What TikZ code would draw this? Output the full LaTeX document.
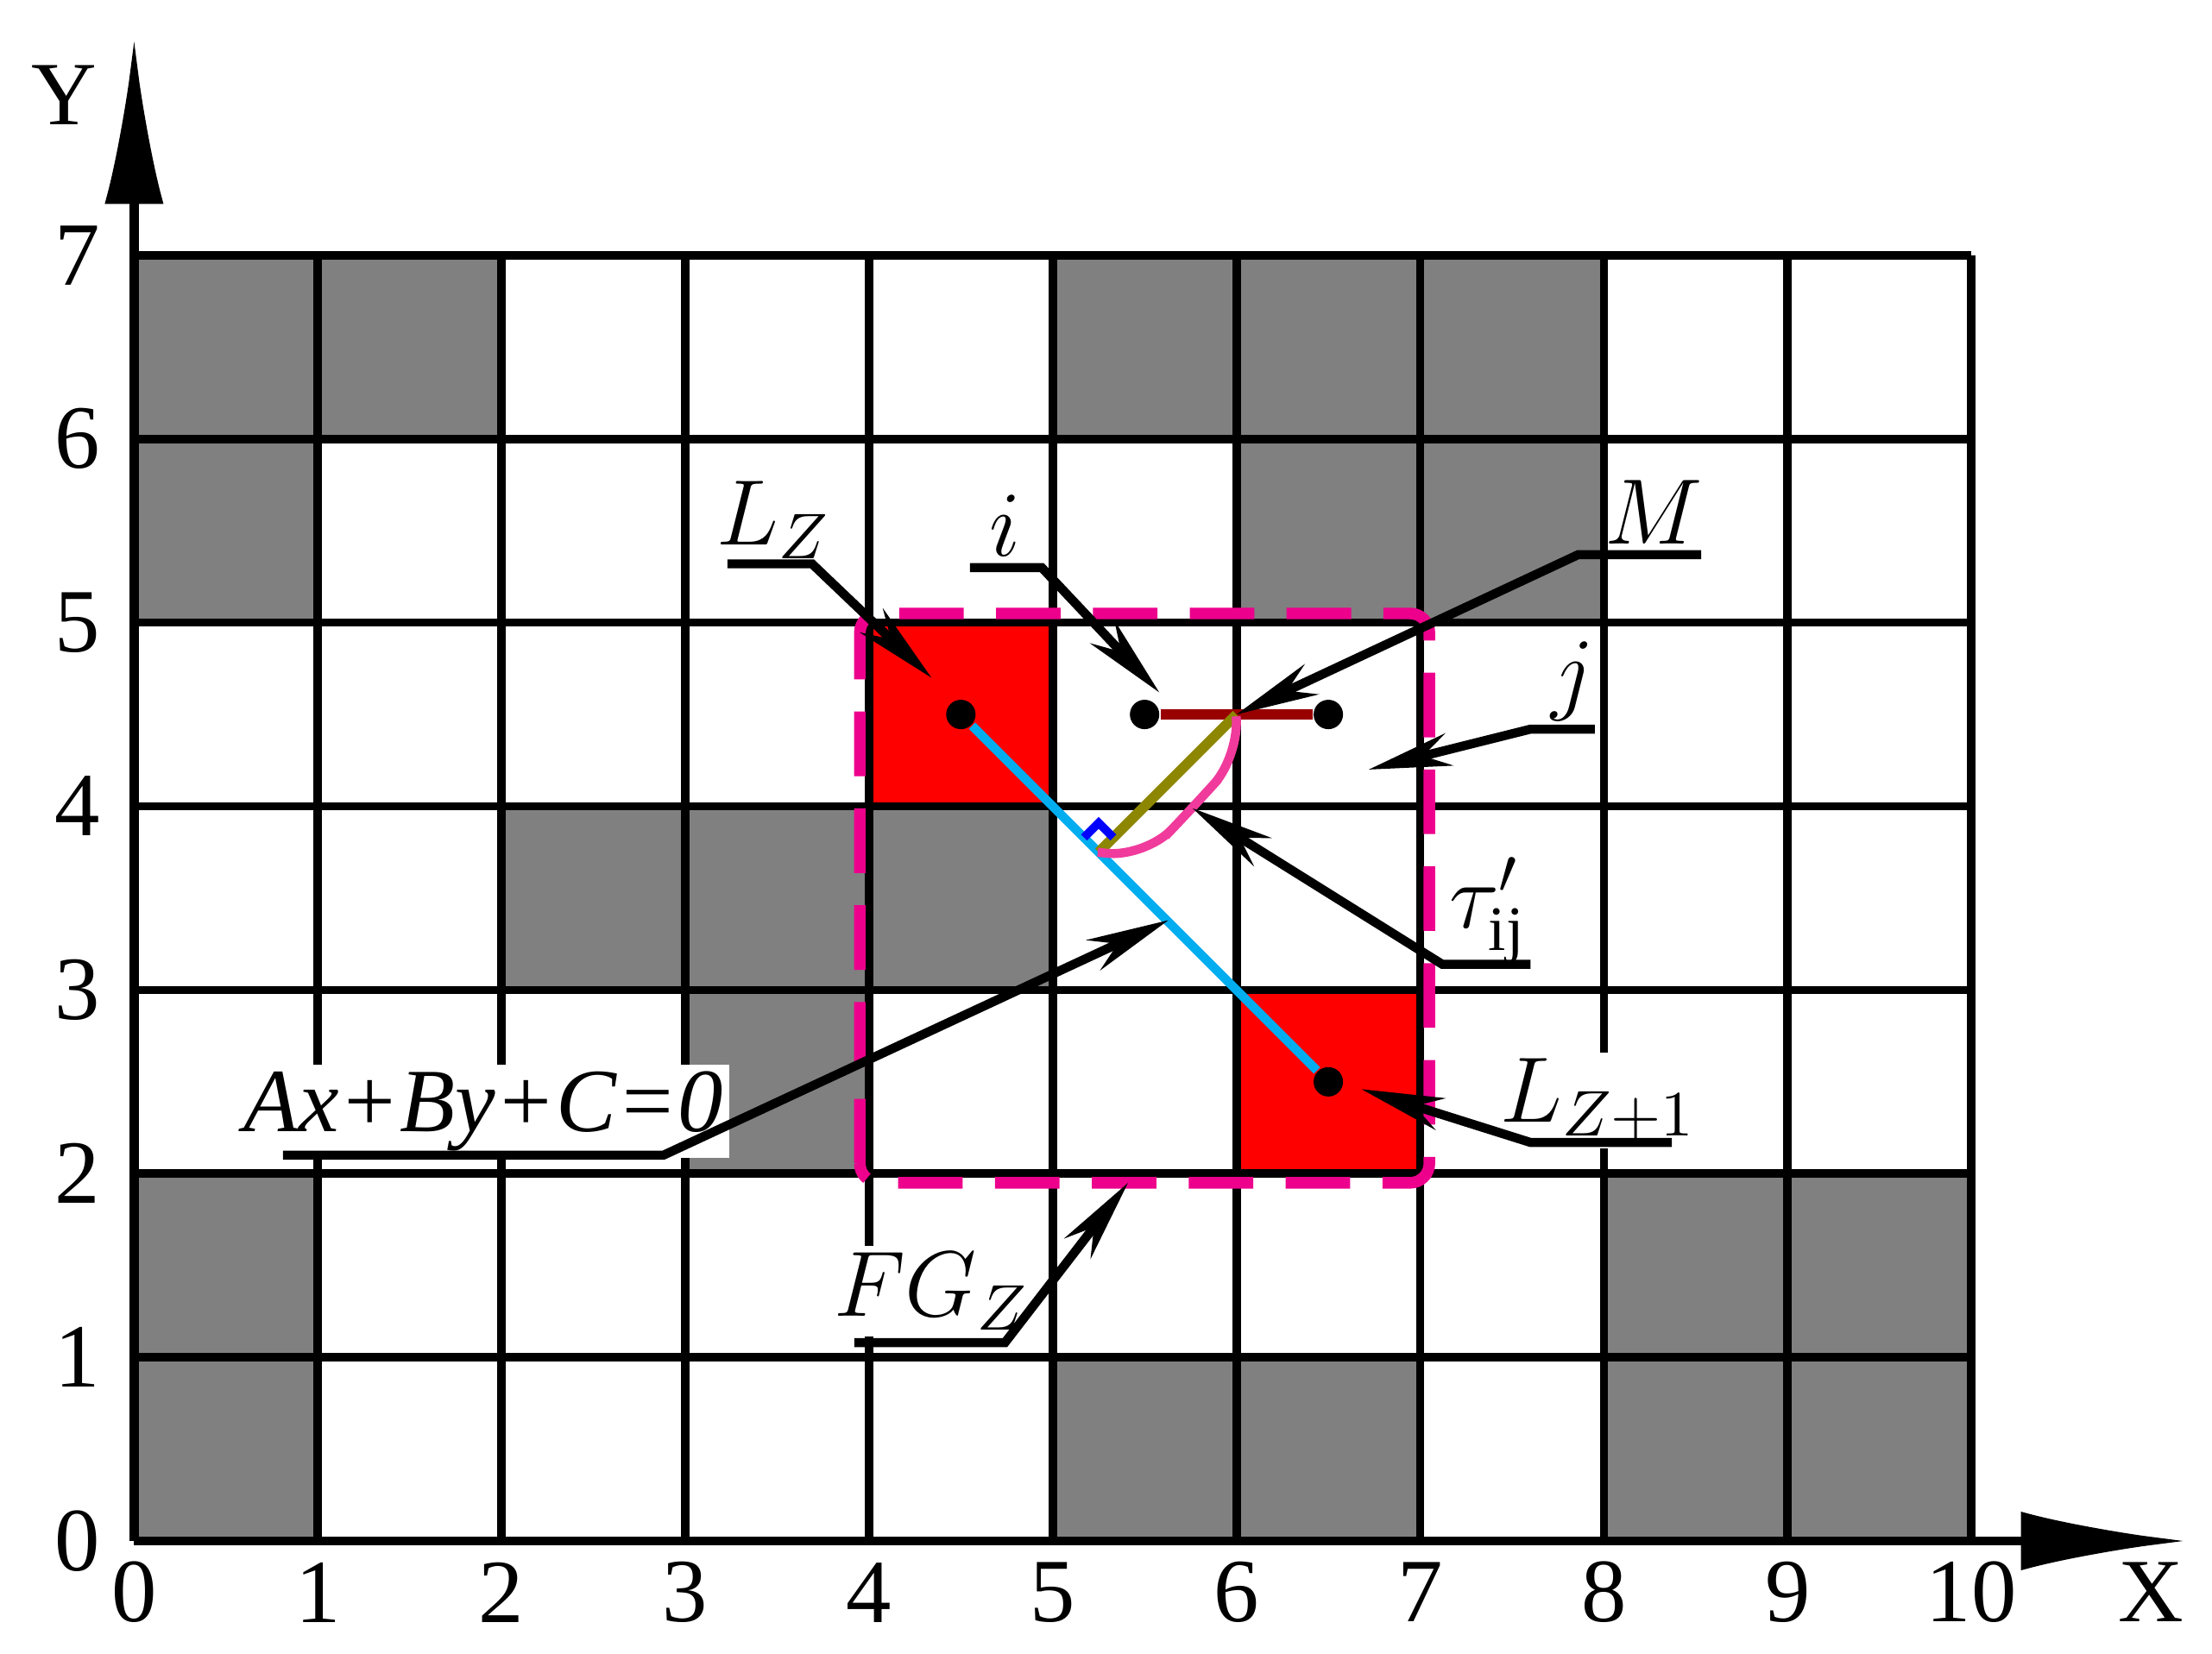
\documentclass[tikz,border=0pt]{standalone}
\usepackage{fontspec}
\setmainfont{Liberation Serif}
\usetikzlibrary{arrows.meta}
\begin{document}
\begin{tikzpicture}[
  gridln/.style={line width=1.3pt},
  lead/.style={line width=1.4pt},
  leadarr/.style={line width=1.4pt,-{Stealth[length=4.5mm,width=1.8mm]}},
  lab/.style={font=\fontsize{14}{16}\selectfont\itshape,fill=white,inner sep=1pt},
  num/.style={font=\fontsize{14}{16}\selectfont},
  dot/.style={circle,fill=black,inner sep=0pt,minimum size=1.6mm}]
\useasboundingbox (-0.73,-0.615) rectangle (11.31,8.39);
% gray cells
\foreach \x/\y in {0/6,1/6,5/6,6/6,7/6,0/5,6/5,7/5,2/3,3/3,4/3,3/2,0/1,8/1,9/1,0/0,5/0,6/0,8/0,9/0}
  \fill[gray!100!black,fill=gray] (\x,\y) rectangle ++(1,1);
\fill[red] (4,4) rectangle (5,5);
\fill[red] (6,2) rectangle (7,3);
% grid
\foreach \y in {0,...,7} \draw[gridln] (0,\y) -- (10,\y);
\foreach \x in {0,...,10} \draw[gridln] (\x,0) -- (\x,7);
% axes
\draw[line width=1.4pt,-{Latex[length=9mm,width=3.2mm]}] (0,0) -- (0,8.18);
\draw[line width=1.4pt,-{Latex[length=9mm,width=3.2mm]}] (0,0) -- (11.17,0);
\node[num] (ylab) at (-0.38,7.87) {Y};
\node[num] (xlab) at (10.98,-0.28) {X};
\foreach \x in {0,...,10} \node[num] (xt\x) at (\x,-0.28) {\x};
\foreach \y in {0,...,7} \node[num] (yt\y) at (-0.31,\y) {\y};
% dashed magenta region
\draw[magenta,line width=1.8pt,dash pattern=on 10pt off 5pt,rounded corners=3pt] (3.95,1.95) rectangle (7.05,5.05);
% lines
\node[dot] (Lz) at (4.5,4.5) {};
\node[dot] (Lz1) at (6.5,2.5) {};
\node[dot] (i1) at (5.5,4.5) {};
\node[dot] (i2) at (6.5,4.5) {};
\coordinate (M) at (6,4.5);
\coordinate (F) at (5.25,3.75);
\draw[cyan,line width=1.4pt] (Lz) -- (Lz1);
\draw[red!60!black,line width=1.6pt] (i1) -- (i2);
\draw[olive,line width=1.6pt] (F) -- (M);
\draw[blue,line width=1.3pt] (5.17,3.83) -- (5.25,3.91) -- (5.33,3.83);
\draw[magenta!70!pink,line width=1.4pt,rounded corners=6pt] (5.245,3.75) -- (5.5,3.72) -- (5.76,3.99) -- (6.02,4.28) -- (6.0,4.47);
\foreach \y in {0,...,7} \draw[gridln] (0,\y) -- (0,\y);
% labels and leaders
\node[lab,fill=none] (tLz) at (3.48,5.56) {$L_{Z}$};
\draw[leadarr] (3.23,5.32) -- (3.69,5.32) -- (4.34,4.7);
\node[lab,fill=none] (ti) at (4.74,5.53) {$i$};
\draw[leadarr] (4.55,5.3) -- (4.94,5.3) -- (5.58,4.62);
\node[lab,fill=none] (tM) at (8.27,5.6) {$M$};
\draw[leadarr] (8.53,5.37) -- (7.86,5.37) -- (M);
\node[lab,fill=none] (tj) at (7.83,4.68) {$j$};
\draw[leadarr] (7.95,4.42) -- (7.6,4.42) -- (6.72,4.2);
\node[lab,fill=white,font=\fontsize{14}{16}\selectfont] (tt) at (7.37,3.43) {$\tau'_{\mathrm{ij}}$};
\draw[leadarr] (7.6,3.14) -- (7.12,3.14) -- (5.76,3.99);
\node[lab] (tLz1) at (7.97,2.4) {$L_{Z+1}$};
\draw[leadarr] (8.37,2.17) -- (7.6,2.17) -- (6.68,2.46);
\node[lab] (tA) at (1.9,2.34) {Ax+By+C=0};
\draw[leadarr] (0.81,2.1) -- (2.88,2.1) -- (5.63,3.38);
\node[lab] (tFG) at (4.34,1.36) {$FG_{Z}$};
\draw[leadarr] (3.92,1.08) -- (4.74,1.08) -- (5.41,1.95);
\end{tikzpicture}
\end{document}
